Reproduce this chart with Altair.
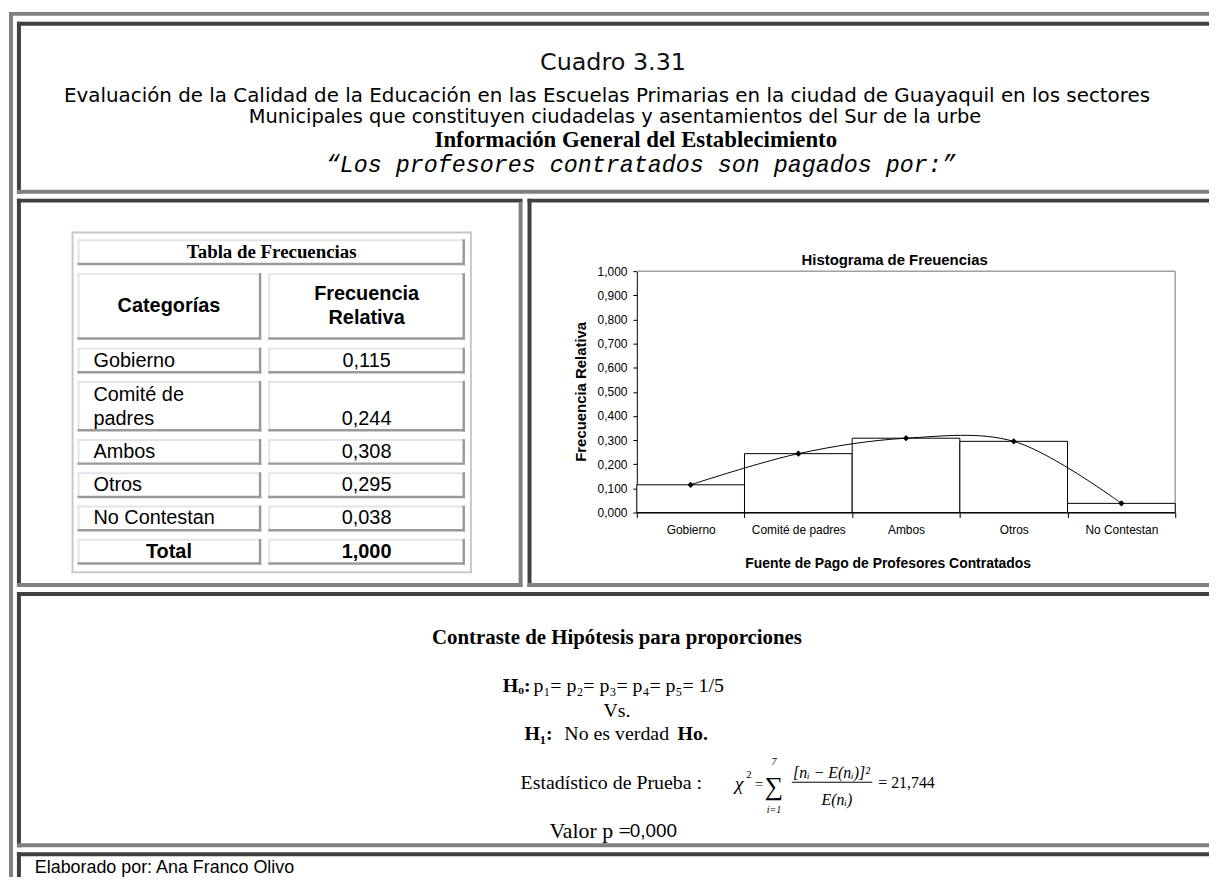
import textwrap
import altair as alt
import pandas as pd

# ------------------------------------------------------------------ data
categories = ["Gobierno", "Comité de padres", "Ambos", "Otros", "No Contestan"]
rel_freq = [0.115, 0.244, 0.308, 0.295, 0.038]
y_ticks = [0.0, 0.1, 0.2, 0.3, 0.4, 0.5, 0.6, 0.7, 0.8, 0.9, 1.0]
chi2_value = 21.744
p_value = 0.000

title_lines = [
    "Cuadro 3.31",
    "Evaluación de la Calidad de la Educación en las Escuelas Primarias en la ciudad de Guayaquil en los sectores",
    "Municipales que constituyen ciudadelas y asentamientos del Sur de la urbe",
    "Información General del Establecimiento",
    "\u201cLos profesores contratados son pagados por:\u201d",
]


def fmt(v):
    return f"{v:.3f}".replace(".", ",")


# ------------------------------------------------------------------ layout
W, H = 1209, 872
DARK = "#404040"
GRAY = "#808080"
SANS = "Liberation Sans"
SERIF = "Liberation Serif"
MONO = "Liberation Mono"

layers = []


def rect(x0, x1, y0, y1, color):
    layers.append(
        alt.Chart(alt.Data(values=[{"k": 0}]))
        .mark_rect(color=color, strokeWidth=0)
        .encode(x=alt.value(x0), x2=alt.value(x1), y=alt.value(y0), y2=alt.value(y1))
    )


def T(s, x, y, size, font=SANS, weight="normal", style="normal", align="center",
      color="black", angle=0, baseline="middle"):
    kw = dict(font=font, fontSize=size, fontWeight=weight, fontStyle=style,
              align=align, baseline=baseline, color=color)
    if angle:
        kw["angle"] = angle
    layers.append(
        alt.Chart(alt.Data(values=[{"t": s}]))
        .mark_text(**kw)
        .encode(text="t:N", x=alt.value(x), y=alt.value(y))
    )


# outer frame (gray, cut at right/bottom)
rect(1, 5, 1, H, GRAY)
rect(1, W, 1, 5, GRAY)

# top panel
rect(9, W, 11, 15, DARK)
rect(9, 13, 11, 184, DARK)
rect(9, W, 180, 184, GRAY)
# middle left panel
rect(9, 518, 189, 193, DARK)
rect(9, 13, 189, 580, DARK)
rect(514, 518, 193, 580, GRAY)
rect(9, 518, 576, 580, GRAY)
# middle right panel
rect(523, W, 189, 193, DARK)
rect(523, 527, 189, 580, DARK)
rect(523, W, 576, 580, GRAY)
# bottom panel
rect(9, W, 585, 589, DARK)
rect(9, 13, 585, 842, DARK)
rect(9, W, 838, 842, GRAY)
# footer
rect(9, W, 847, 851, DARK)
rect(9, 13, 847, H, DARK)

# ------------------------------------------------------------------ top texts
T(title_lines[0], 609, 52.5, 24, font="DejaVu Sans", color="#111111")
T(title_lines[1], 603, 86, 20, font="DejaVu Sans")
T(title_lines[2], 611, 107, 19.5, font="DejaVu Sans")
T(title_lines[3], 632, 130, 23, font=SERIF, weight="bold")
T(title_lines[4], 637, 155.5, 23.5, font=MONO, style="italic")

# ------------------------------------------------------------------ table
# outer light frame
rect(64, 467, 222, 224, "#c8c8c8")
rect(64, 66, 222, 566, "#c8c8c8")
rect(465, 467, 222, 566, "#c8c8c8")
rect(64, 467, 564, 566, "#c8c8c8")

LIGHT = "#e4e4e4"
MID = "#9a9a9a"


def cell(x0, x1, y0, y1):
    rect(x0, x1, y0, y0 + 2, LIGHT)
    rect(x0, x0 + 2, y0, y1, LIGHT)
    rect(x0, x1, y1 - 2.5, y1, MID)
    rect(x1 - 2.5, x1, y0, y1, MID)


LX0, LX1, RX0, RX1 = 70, 255, 262, 460
cell(LX0, RX1, 230, 256)
T("Tabla  de Frecuencias", 265.5, 243, 19, font=SERIF, weight="bold")
cell(LX0, LX1, 264, 331)
cell(RX0, RX1, 264, 331)
T("Categorías", 162, 297.5, 20, weight="bold")
T("Frecuencia", 361, 285, 20, weight="bold")
T("Relativa", 361, 309.5, 20, weight="bold")

rows = [(textwrap.wrap(c, 12), fmt(v), "normal") for c, v in zip(categories, rel_freq)]
rows.append((["Total"], fmt(sum(rel_freq)), "bold"))
y = 339.0
for lines, val, wt in rows:
    h = 26 + 25 * (len(lines) - 1)
    cell(LX0, LX1, y, y + h)
    cell(RX0, RX1, y, y + h)
    last = y + h - 13
    for j, ln in enumerate(lines):
        ly = last - 24 * (len(lines) - 1 - j)
        if wt == "bold":
            T(ln, 162, ly, 20, weight="bold")
        else:
            T(ln, 86, ly, 20, align="left")
    T(val, 361, last, 20, weight=wt)
    y += h + 7.5

# ------------------------------------------------------------------ histogram
PX0, PX1, PY0, PY1 = 633, 1175, 262, 505   # plot area (left, right, top, bottom)
hist_df = pd.DataFrame({"cat": categories, "freq": rel_freq})

xs = alt.Scale(type="band", domain=categories, range=[PX0, PX1], paddingInner=0, paddingOuter=0)
ys = alt.Scale(domain=[0, 1], range=[PY1, PY0], nice=False, zero=True)

x_axis = alt.Axis(
    title=None, offset=PY1 - H, labelAngle=0, tickBand="extent", grid=False,
    domainColor="black", tickColor="black", tickSize=5, tickWidth=1, domainWidth=1,
    labelFont=SANS, labelFontSize=12, labelColor="black", labelPadding=7,
)
y_axis = alt.Axis(
    title=None, offset=-PX0, values=y_ticks, grid=False,
    labelExpr="replace(format(datum.value, '.3f'), '.', ',')",
    domainColor="black", tickColor="black", tickSize=4, tickWidth=1, domainWidth=1,
    labelFont=SANS, labelFontSize=12, labelColor="black", labelPadding=6,
)

# plot frame (gray top / right)
layers.append(
    alt.Chart(alt.Data(values=[{"k": 0}])).mark_rule(color="#a0a0a0", strokeWidth=1.5)
    .encode(x=alt.value(PX0), x2=alt.value(PX1), y=alt.value(PY0))
)
layers.append(
    alt.Chart(alt.Data(values=[{"k": 0}])).mark_rule(color="#a0a0a0", strokeWidth=1.5)
    .encode(x=alt.value(PX1), y=alt.value(PY0), y2=alt.value(PY1))
)

base = alt.Chart(hist_df).encode(
    x=alt.X("cat:N", scale=xs, sort=categories, axis=x_axis),
    y=alt.Y("freq:Q", scale=ys, axis=y_axis),
)
layers.append(base.mark_bar(fill="white", stroke="black", strokeWidth=1))
layers.append(base.mark_line(interpolate="catmull-rom", color="black", strokeWidth=1))
layers.append(base.mark_point(shape="diamond", filled=True, color="black", size=40, opacity=1))

T("Histograma de Freuencias", 892.5, 251, 15, weight="bold")
T("Fuente de Pago de Profesores Contratados", 886, 557, 14, weight="bold")
T("Frecuencia Relativa", 577, (PY0 + PY1) / 2, 15, weight="bold", angle=270)

# ------------------------------------------------------------------ bottom panel
T("Contraste de Hipótesis para proporciones", 613, 631.5, 21, font=SERIF, weight="bold")
T("Hₒ:", 526, 680, 20, font=SERIF, weight="bold", align="right")
T("p₁= p₂= p₃= p₄= p₅= 1/5", 529, 680, 20, font=SERIF, align="left")
T("Vs.", 613, 704.5, 20, font=SERIF)
T("H₁:", 520, 727.5, 20, font=SERIF, weight="bold", align="left")
T("No es verdad", 560, 727.5, 20, font=SERIF, align="left")
T("Ho.", 674, 727.5, 20, font=SERIF, weight="bold", align="left")
T("Estadístico de Prueba :", 516, 777, 20, font=SERIF, align="left")
T("χ", 736, 778, 20, font=SERIF, style="italic")
T("2", 746, 769, 11, font=SERIF)
T("=", 756, 778, 15, font=SERIF)
T("∑", 771, 781, 26, font=SERIF)
T("7", 771, 756.5, 10, font=SERIF, style="italic")
T("i=1", 771, 804, 10, font=SERIF, style="italic")
T("[nᵢ − E(nᵢ)]²", 829, 767, 16, font=SERIF, style="italic")
layers.append(
    alt.Chart(alt.Data(values=[{"k": 0}])).mark_rule(color="black", strokeWidth=1)
    .encode(x=alt.value(789), x2=alt.value(870), y=alt.value(776.5))
)
T("E(nᵢ)", 834.5, 794, 16, font=SERIF, style="italic")
T("= " + fmt(chi2_value), 876, 777.5, 16, font=SERIF, align="left")
T("Valor p =", 545, 826, 22, font=SERIF, align="left")
T(fmt(p_value), 626, 826, 19, font=SANS, align="left")

# ------------------------------------------------------------------ footer
T("Elaborado por: Ana Franco Olivo", 27, 862.5, 18, font=SANS, align="left")

chart = (
    alt.layer(*layers)
    .properties(width=W, height=H, padding=0,
                autosize=alt.AutoSizeParams(type="none"), background="white")
    .configure_view(strokeWidth=0)
)

chart.save("out.html", embed_options={"renderer": "svg", "actions": False})
